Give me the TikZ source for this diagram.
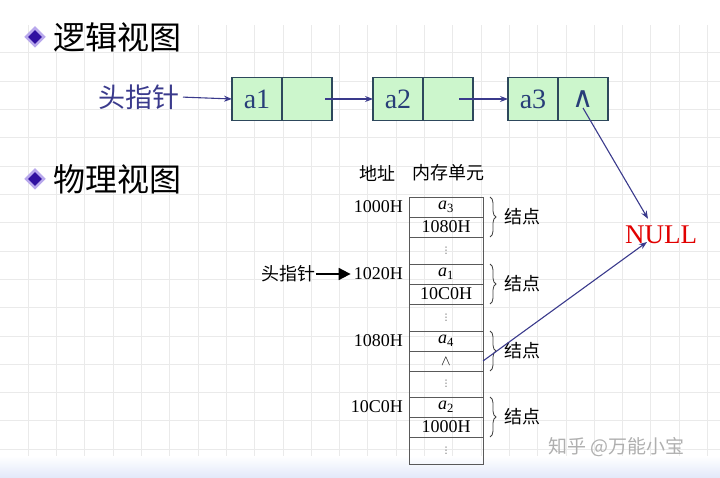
\documentclass[tikz,border=0pt]{standalone}
\usepackage{fontspec}
\setmainfont{Liberation Serif}
\newfontfamily\cjk{Noto Sans CJK SC}
\newfontfamily\symfont{DejaVu Sans}
\usetikzlibrary{arrows.meta,positioning,shapes.geometric,decorations.pathreplacing}
\definecolor{gridgray}{RGB}{234,234,234}
\definecolor{linkblue}{RGB}{58,58,140}
\definecolor{textblue}{RGB}{40,62,120}
\definecolor{cellgreen}{RGB}{204,246,204}
\definecolor{cellline}{RGB}{45,72,92}
\definecolor{bulletdark}{RGB}{48,16,160}
\definecolor{bulletlight}{RGB}{184,168,236}
\definecolor{nullred}{RGB}{225,0,0}
\definecolor{bandblue}{RGB}{226,232,250}
\definecolor{markgray}{RGB}{175,175,175}

\begin{document}
\begin{tikzpicture}[
  x=1pt, y=-1pt,
  gridline/.style={draw=gridgray, line width=1pt},
  bullet/.style={diamond, fill=bulletdark, draw=bulletlight, line width=2.5pt, minimum size=19pt, inner sep=0pt},
  heading/.style={font=\cjk\fontsize{32}{32}\selectfont, inner sep=0pt},
  listcell/.style={rectangle, draw=cellline, fill=cellgreen, line width=1.2pt, minimum width=50pt, minimum height=43pt, inner sep=0pt, outer sep=0pt, font=\fontsize{28}{28}\selectfont, text=textblue},
  link/.style={draw=linkblue, line width=1.1pt, -{Stealth[length=8pt,width=6pt]}},
  memcell/.style={rectangle, draw=black!65, line width=0.9pt, minimum width=74pt, minimum height=20pt, inner sep=0pt, outer sep=0pt, font=\fontsize{18}{18}\selectfont},
  gapcell/.style={memcell, minimum height=27pt, font=\symfont\fontsize{9}{9}\selectfont, text=black!70},
  addr/.style={font=\fontsize{18}{18}\selectfont, anchor=east, inner sep=0pt},
  memtext/.style={font=\cjk\fontsize{18}{18}\selectfont, inner sep=0pt},
  nodebrace/.style={draw=black!75, line width=0.8pt, decorate, decoration={brace, amplitude=6pt}}
]
\useasboundingbox (0,0) rectangle (720,478);

% background grid
\foreach \i in {1,...,25}
  \draw[gridline] (28.3*\i,25) -- (28.3*\i,478);
\foreach \j in {1,...,15}
  \draw[gridline] (0,24.7+28.3*\j) -- (720,24.7+28.3*\j);
\shade[top color=white, bottom color=bandblue] (0,456) rectangle (720,478);

% headings
\node[bullet] (b1) at (35,37) {};
\node[heading, right=8pt of b1] (t1) {逻辑视图};
\node[bullet] (b2) at (35,179) {};
\node[heading, right=8pt of b2] (t2) {物理视图};

% logical view
\node[font=\cjk\fontsize{27}{27}\selectfont, text=linkblue, anchor=east, inner sep=0pt] (head) at (180,97) {头指针};
\node[listcell] (a1d) at (257,99) {a1};
\node[listcell, right=0pt of a1d] (a1p) {};
\node[listcell] (a2d) at (398,99) {a2};
\node[listcell, right=0pt of a2d] (a2p) {};
\node[listcell] (a3d) at (533,99) {a3};
\node[listcell, right=0pt of a3d, font=\symfont\fontsize{29}{29}\selectfont] (a3p) {∧};

\coordinate (a1n) at ([xshift=-7pt]a1p.east);
\coordinate (a2n) at ([xshift=-14pt]a2p.east);
\coordinate (a3n) at ([yshift=-9pt]a3p.center);

\draw[link, shorten <=3pt] (head.east) -- (a1d.west);
\draw[link] (a1n) -- (a2d.west);
\draw[link] (a2n) -- (a3d.west);

\node[font=\fontsize{27}{27}\selectfont, text=nullred, inner sep=0pt] (null) at (661,235) {NULL};
\coordinate (nulltop) at ([xshift=-13pt, yshift=7pt]null.north);
\coordinate (nullbot) at ([xshift=-14pt, yshift=-7pt]null.center);

% physical view
\node[memtext] (addrhdr) at (377,173) {地址};
\node[memtext] (cellhdr) at (448,173) {内存单元};

\node[memcell] (m1) at (446,207) {\textit{a}\textsubscript{3}};
\node[memcell, below=0pt of m1] (m2) {1080H};
\node[gapcell, below=0pt of m2] (m3) {⋮};
\node[memcell, below=0pt of m3] (m4) {\textit{a}\textsubscript{1}};
\node[memcell, below=0pt of m4] (m5) {10C0H};
\node[gapcell, below=0pt of m5] (m6) {⋮};
\node[memcell, below=0pt of m6] (m7) {\textit{a}\textsubscript{4}};
\node[memcell, below=0pt of m7, font=\fontsize{15}{15}\selectfont] (m8) {$\wedge$};
\node[gapcell, below=0pt of m8, minimum height=26pt] (m9) {⋮};
\node[memcell, below=0pt of m9] (m10) {\textit{a}\textsubscript{2}};
\node[memcell, below=0pt of m10] (m11) {1000H};
\node[gapcell, below=0pt of m11] (m12) {⋮};

\node[addr] (ad1) at ([xshift=-6pt]m1.west) {1000H};
\node[addr] (ad2) at ([xshift=-6pt]m4.west) {1020H};
\node[addr] (ad3) at ([xshift=-6pt]m7.west) {1080H};
\node[addr] (ad4) at ([xshift=-6pt]m10.west) {10C0H};

\node[memtext, anchor=east] (head2) at (316,274) {头指针};
\draw[line width=1.8pt, -{Triangle[length=12pt,width=12pt]}, shorten >=3pt] (head2.east) -- (ad2.west);

% node braces
\draw[nodebrace] ([xshift=7pt]m1.north east) -- ([xshift=7pt]m2.south east)
  node[memtext, midway, right=14pt] (j1) {结点};
\draw[nodebrace] ([xshift=7pt]m4.north east) -- ([xshift=7pt]m5.south east)
  node[memtext, midway, right=14pt] (j2) {结点};
\draw[nodebrace] ([xshift=7pt]m7.north east) -- ([xshift=7pt]m8.south east)
  node[memtext, midway, right=14pt] (j3) {结点};
\draw[nodebrace] ([xshift=7pt]m10.north east) -- ([xshift=7pt]m11.south east)
  node[memtext, midway, right=14pt] (j4) {结点};

% pointers to NULL
\draw[link] (a3n) -- (nulltop);
\draw[link] (m8.east) -- (nullbot);

\node[font=\cjk\fontsize{19}{19}\selectfont, text=markgray, anchor=west, inner sep=0pt] (mark) at (548,447) {知乎 @万能小宝};
\end{tikzpicture}
\end{document}
